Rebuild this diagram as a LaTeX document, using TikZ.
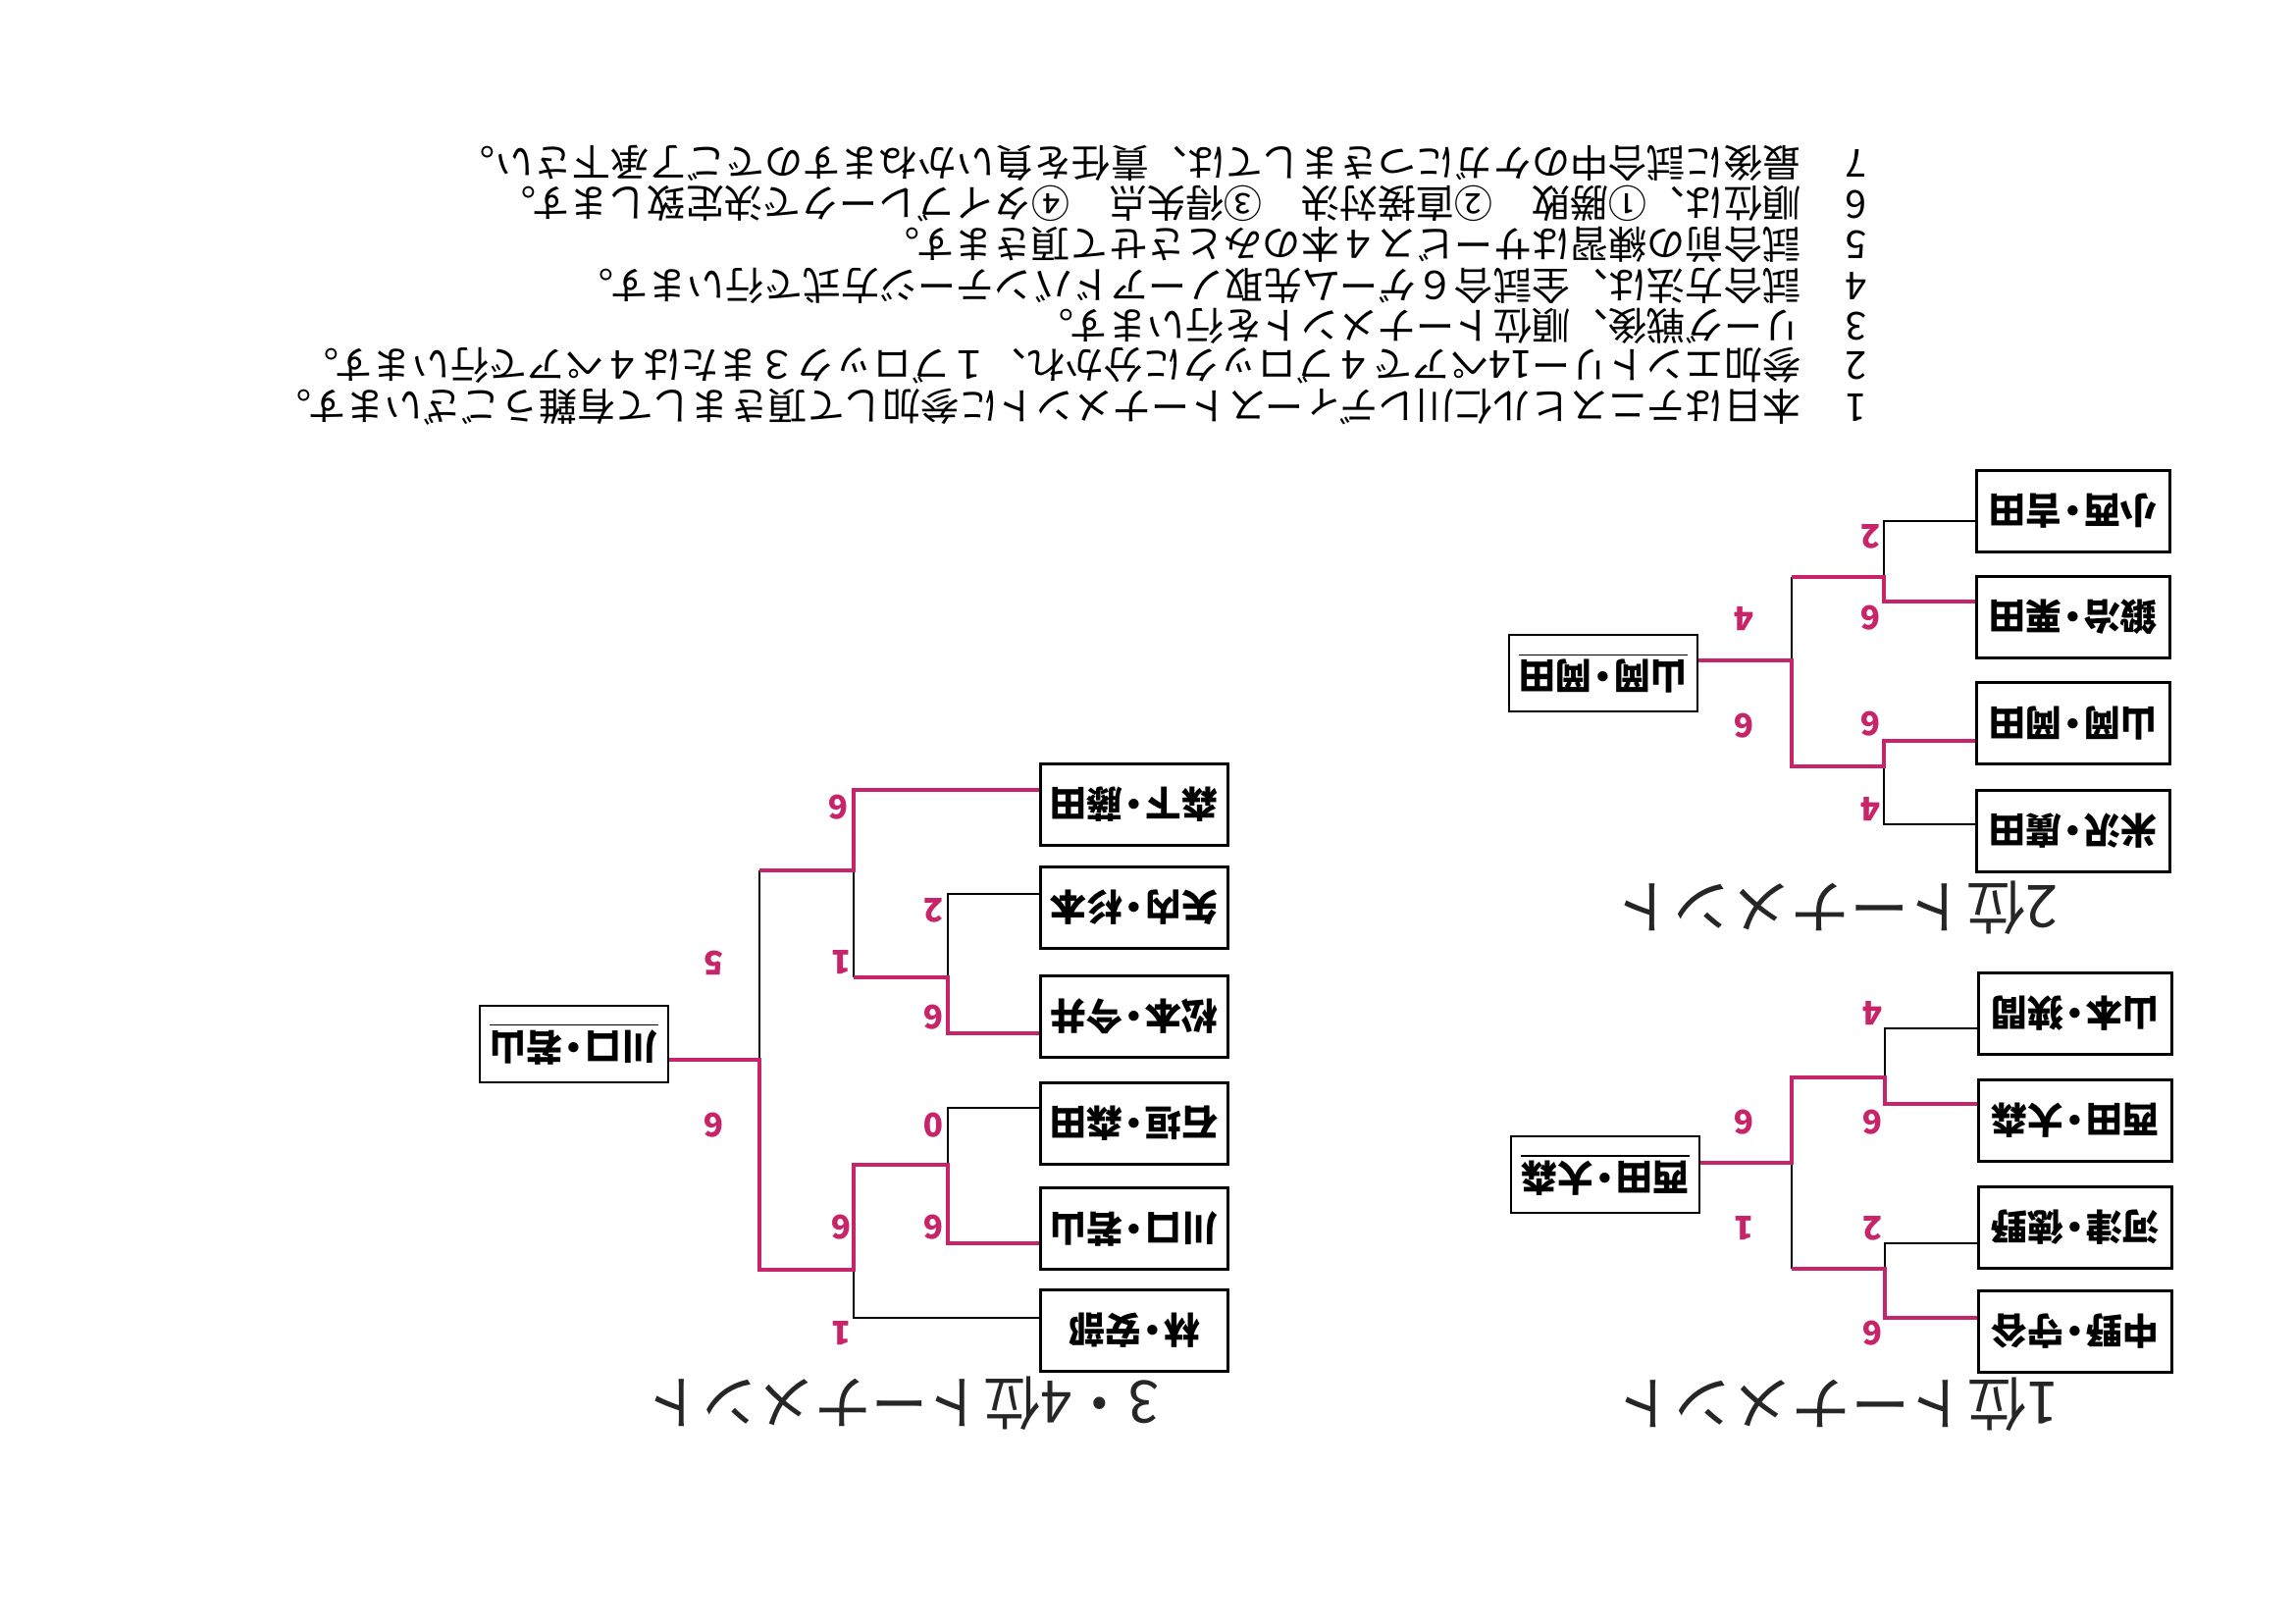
\documentclass[tikz,border=0pt]{standalone}
\usepackage{fontspec}
\usepackage{graphicx}
\setmainfont{Noto Sans CJK JP}
\definecolor{scorepink}{RGB}{200,36,106}
\newcommand{\flip}[1]{\rotatebox[origin=c]{180}{#1}}
\newcommand{\nd}{\kern-.2em・\kern-.2em}

\begin{document}
\begin{tikzpicture}[x=0.1mm,y=-0.1mm]
                \tikzstyle{namebox}=[draw, line width=0.8pt, minimum width=19.7mm, minimum height=8.3mm, inner sep=0pt, font=\fontsize{10.6pt}{13pt}\selectfont\bfseries]
                \tikzstyle{winbox}=[namebox, minimum width=19.2mm, minimum height=7.8mm]
                \tikzstyle{lose}=[line width=0.55pt]
                \tikzstyle{win}=[line width=1.25pt, draw=scorepink]
                \tikzstyle{score}=[text=scorepink, inner sep=0pt, font=\fontsize{9.5pt}{10pt}\selectfont\bfseries]
                \tikzstyle{title}=[inner sep=0pt, text=black!85, font=\fontsize{17pt}{18pt}\selectfont]
                \tikzstyle{note}=[anchor=east, inner sep=0pt, font=\fontsize{11.15pt}{13pt}\selectfont]

                \fill[white] (0,0) rectangle (2340,1654);
                \useasboundingbox (0,0) rectangle (2340,1654);

                % notes
                \node[note, anchor=center] (k1) at (1892,415) {\flip{1}};
                \node[note, anchor=center] (k2) at (1892,373) {\flip{2}};
                \node[note, anchor=center] (k3) at (1892,332) {\flip{3}};
                \node[note, anchor=center] (k4) at (1892,291) {\flip{4}};
                \node[note, anchor=center] (k5) at (1892,249) {\flip{5}};
                \node[note, anchor=center] (k6) at (1892,208) {\flip{6}};
                \node[note, anchor=center] (k7) at (1892,166) {\flip{7}};
                \node[note] (l1) at (1836,415) {\flip{本日はテニスヒル仁川レディーストーナメントに参加して頂きまして有難うございます。}};
                \node[note] (l2) at (1836,373) {\flip{参加エントリー14ペアで４ブロックに分かれ、１ブロック３または４ペアで行います。}};
                \node[note] (l3) at (1836,332) {\flip{リーグ戦後、順位トーナメントを行います。}};
                \node[note] (l4) at (1836,291) {\flip{試合方法は、全試合６ゲーム先取ノーアドバンテージ方式で行います。}};
                \node[note] (l5) at (1836,249) {\flip{試合前の練習はサービス４本のみとさせて頂きます。}};
                \node[note] (l6) at (1836,208) {\flip{順位は、①勝敗　②直接対決　③得失点　④タイブレークで決定致します。}};
                \node[note] (l7) at (1836,166) {\flip{最後に試合中のケガにつきましては、責任を負いかねますのでご了承下さい。}};

                % 2位
                \node[title] (tt2) at (1872,925) {\flip{2位トーナメント}};
                \node[namebox] (s1) at (2113,521) {\flip{小西\nd 吉田}};
                \node[namebox] (s2) at (2113,629) {\flip{鍛冶\nd 栗田}};
                \node[namebox] (s3) at (2113,737) {\flip{山岡\nd 岡田}};
                \node[namebox] (s4) at (2113,847) {\flip{米沢\nd 廣田}};
                \node[winbox] (w2) at (1634,686) {\flip{\underline{山岡\nd 岡田}}};
                \coordinate (a1) at (1920,531);
                \coordinate (a2) at (1920,613);
                \coordinate (a3) at (1920,755);
                \coordinate (a4) at (1920,840);
                \coordinate (aj1) at (1920,588);
                \coordinate (aj2) at (1920,781);
                \coordinate (ak1) at (1826,588);
                \coordinate (ak2) at (1826,781);
                \coordinate (aw) at (1826,673);
                \draw[lose] (s1.west |- a1) -- (a1) -- (aj1);
                \draw[lose] (s4.west |- a4) -- (a4) -- (aj2);
                \draw[lose] (ak1) -- (aw);
                \draw[win] (s2.west |- a2) -- (a2) -- (aj1) -- (ak1);
                \draw[win] (s3.west |- a3) -- (a3) -- (aj2) -- (ak2) -- (aw) -- (w2.east |- aw);
                \node[score] at (1906,547) {\flip{2}};
                \node[score] at (1906,630) {\flip{6}};
                \node[score] at (1906,738) {\flip{6}};
                \node[score] at (1906,825) {\flip{4}};
                \node[score] at (1777,631) {\flip{4}};
                \node[score] at (1777,740) {\flip{6}};

                % 1位
                \node[title] (tt1) at (1873,1431) {\flip{1位トーナメント}};
                \node[namebox] (f1) at (2115,1033) {\flip{山本\nd 狭間}};
                \node[namebox] (f2) at (2115,1142) {\flip{西田\nd 大森}};
                \node[namebox] (f3) at (2115,1251) {\flip{河津\nd 徳野}};
                \node[namebox] (f4) at (2115,1357) {\flip{中野\nd 守谷}};
                \node[winbox] (w1) at (1636,1197) {\flip{\underline{西田\nd 大森}}};
                \coordinate (b1) at (1921,1048);
                \coordinate (b2) at (1921,1125);
                \coordinate (b3) at (1921,1267);
                \coordinate (b4) at (1921,1343);
                \coordinate (bj1) at (1921,1098);
                \coordinate (bj2) at (1921,1293);
                \coordinate (bk1) at (1826,1098);
                \coordinate (bk2) at (1826,1293);
                \coordinate (bw) at (1826,1185);
                \draw[lose] (f1.west |- b1) -- (b1) -- (bj1);
                \draw[lose] (f3.west |- b3) -- (b3) -- (bj2);
                \draw[lose] (bw) -- (bk2);
                \draw[win] (f2.west |- b2) -- (b2) -- (bj1) -- (bk1) -- (bw) -- (w1.east |- bw);
                \draw[win] (f4.west |- b4) -- (b4) -- (bj2) -- (bk2);
                \node[score] at (1908,1033) {\flip{4}};
                \node[score] at (1908,1144) {\flip{6}};
                \node[score] at (1908,1252) {\flip{2}};
                \node[score] at (1908,1359) {\flip{6}};
                \node[score] at (1777,1144) {\flip{6}};
                \node[score] at (1777,1252) {\flip{1}};

                % 3・4位
                \node[title] (tt3) at (920,1430) {\flip{\scalebox{0.96}[1]{3・4位トーナメント}}};
                \node[namebox, minimum width=19.1mm] (t1) at (1156,820) {\flip{森下\nd 藤田}};
                \node[namebox, minimum width=19.1mm] (t2) at (1156,925) {\flip{矢内\nd 杉本}};
                \node[namebox, minimum width=19.1mm] (t3) at (1156,1036) {\flip{松本\nd 今井}};
                \node[namebox, minimum width=19.1mm] (t4) at (1156,1145) {\flip{石垣\nd 森田}};
                \node[namebox, minimum width=19.1mm] (t5) at (1156,1252) {\flip{川口\nd 若山}};
                \node[namebox, minimum width=19.1mm] (t6) at (1156,1356) {\flip{林\nd 安部}};
                \node[winbox] (w3) at (585,1064) {\flip{\underline{川口\nd 若山}}};
                \coordinate (c1) at (870,805);
                \coordinate (c2) at (966,911);
                \coordinate (c3) at (966,1053);
                \coordinate (c4) at (966,1129);
                \coordinate (c5) at (966,1267);
                \coordinate (c6) at (870,1343);
                \coordinate (cj1) at (966,996);
                \coordinate (cj2) at (966,1187);
                \coordinate (ck1) at (870,996);
                \coordinate (ck2) at (870,1187);
                \coordinate (ch1) at (870,887);
                \coordinate (ch2) at (870,1294);
                \coordinate (cm1) at (774,887);
                \coordinate (cm2) at (774,1294);
                \coordinate (cw) at (774,1080);
                \draw[lose] (t2.west |- c2) -- (c2) -- (cj1);
                \draw[lose] (t4.west |- c4) -- (c4) -- (cj2);
                \draw[lose] (t6.west |- c6) -- (c6) -- (ch2);
                \draw[lose] (ck1) -- (ch1);
                \draw[lose] (cm1) -- (cw);
                \draw[win] (t1.west |- c1) -- (c1) -- (ch1) -- (cm1);
                \draw[win] (t3.west |- c3) -- (c3) -- (cj1) -- (ck1);
                \draw[win] (t5.west |- c5) -- (c5) -- (cj2) -- (ck2) -- (ch2) -- (cm2) -- (cw) -- (w3.east |- cw);
                \node[score] at (854,823) {\flip{6}};
                \node[score] at (951,928) {\flip{2}};
                \node[score] at (857,981) {\flip{1}};
                \node[score] at (951,1037) {\flip{6}};
                \node[score] at (727,981) {\flip{5}};
                \node[score] at (727,1147) {\flip{6}};
                \node[score] at (951,1147) {\flip{0}};
                \node[score] at (951,1251) {\flip{6}};
                \node[score] at (857,1251) {\flip{6}};
                \node[score] at (857,1359) {\flip{1}};
            \end{tikzpicture}
\end{document}
